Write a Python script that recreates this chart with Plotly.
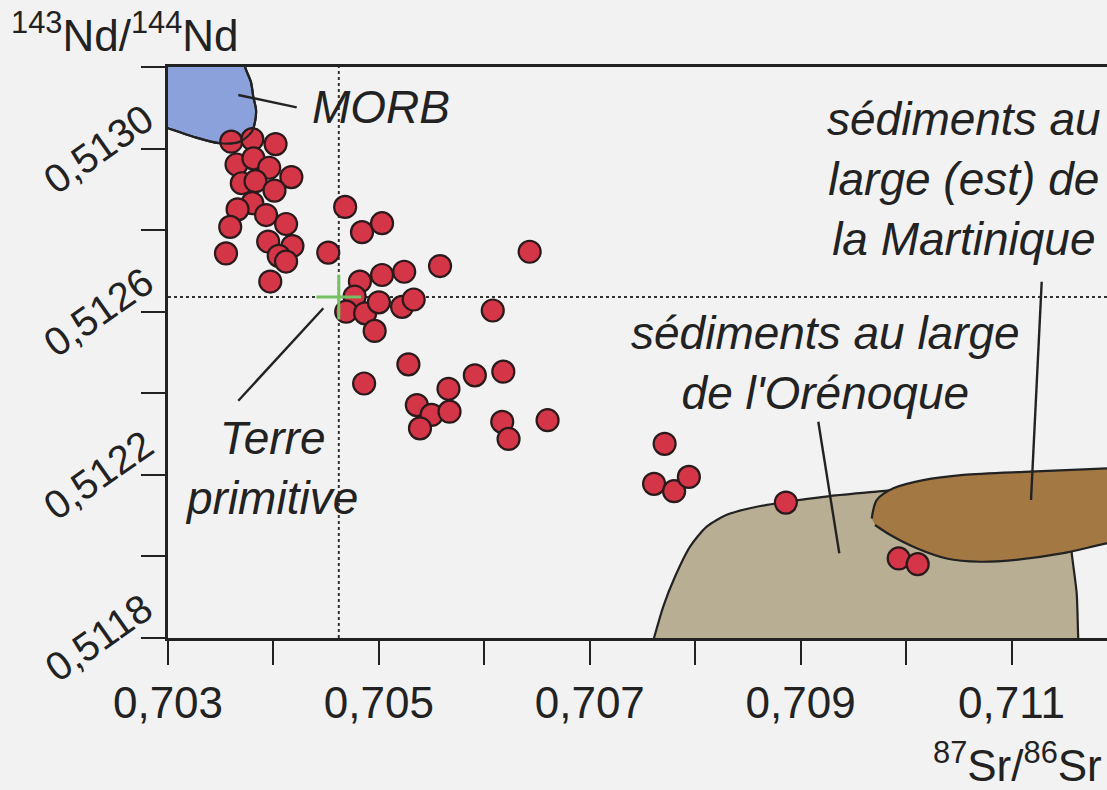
import plotly.graph_objects as go

# ---------------- data ----------------
sr = [0.70360, 0.70380, 0.70402, 0.70365, 0.70381, 0.70396, 0.70417, 0.70370, 0.70383,
      0.70401, 0.70380, 0.70366, 0.70393, 0.70412, 0.70359, 0.70395, 0.70418, 0.70405,
      0.70412, 0.70355, 0.70397,
      0.70468, 0.70484, 0.70503, 0.70452, 0.70558, 0.70643, 0.70482, 0.70503, 0.70524,
      0.70477, 0.70469, 0.70487, 0.70500, 0.70522, 0.70533, 0.70496, 0.70608, 0.70528,
      0.70486, 0.70591, 0.70618, 0.70566, 0.70536, 0.70550, 0.70567, 0.70539, 0.70617,
      0.70623, 0.70660, 0.70771, 0.70761, 0.70780, 0.70794, 0.70886, 0.70993, 0.71011]
nd = [0.513017, 0.513023, 0.513011, 0.512961, 0.512976, 0.512953, 0.512930, 0.512915, 0.512920,
      0.512897, 0.512866, 0.512851, 0.512837, 0.512815, 0.512808, 0.512772, 0.512761, 0.512737,
      0.512723, 0.512743, 0.512674,
      0.512857, 0.512795, 0.512817, 0.512745, 0.512712, 0.512747, 0.512674, 0.512690, 0.512698,
      0.512637, 0.512600, 0.512596, 0.512623, 0.512612, 0.512630, 0.512553, 0.512603, 0.512471,
      0.512424, 0.512444, 0.512453, 0.512411, 0.512371, 0.512347, 0.512355, 0.512314, 0.512330,
      0.512288, 0.512334, 0.512276, 0.512178, 0.512160, 0.512195, 0.512132, 0.511995, 0.511981]

morb_sr = [0.702829, 0.703711, 0.703730, 0.703787, 0.703809, 0.703835, 0.703825, 0.703794,
           0.703683, 0.703493, 0.703240, 0.703000, 0.702829]
morb_nd = [0.513242, 0.513242, 0.513201, 0.513163, 0.513127, 0.513095, 0.513065, 0.513041,
           0.513017, 0.513013, 0.513029, 0.513050, 0.513065]

orinoco_sr = [0.707590, 0.707609, 0.707697, 0.707808, 0.707951, 0.708109, 0.708299, 0.708551,
              0.708868, 0.709278, 0.709721, 0.710416, 0.711270, 0.711517, 0.711571, 0.711618,
              0.711633, 0.711640]
orinoco_nd = [0.511783, 0.511800, 0.511877, 0.511950, 0.512024, 0.512073, 0.512102, 0.512120,
              0.512134, 0.512148, 0.512159, 0.512175, 0.512182, 0.512163, 0.512008, 0.511910,
              0.511800, 0.511783]

martinique_sr = [0.709674, 0.709721, 0.709879, 0.710163, 0.710543, 0.711175, 0.711906, 0.712124,
                 0.712124, 0.711906, 0.711491, 0.711017, 0.710701, 0.710385, 0.710101, 0.709847,
                 0.709705]
martinique_nd = [0.512093, 0.512138, 0.512167, 0.512187, 0.512200, 0.512208, 0.512216, 0.512219,
                 0.512040, 0.512032, 0.512008, 0.511991, 0.511987, 0.511995, 0.512020, 0.512053,
                 0.512077]

chur_sr = 0.70462
chur_nd = 0.512636

x_major = [0.703, 0.705, 0.707, 0.709, 0.711]
x_major_labels = ["0,703", "0,705", "0,707", "0,709", "0,711"]
x_minor = [0.704, 0.706, 0.708, 0.710]
y_major = [0.5118, 0.5122, 0.5126, 0.5130]
y_major_labels = ["0,5118", "0,5122", "0,5126", "0,5130"]
y_minor = [0.5120, 0.5124, 0.5128, 0.5132]

# ---------------- layout helpers ----------------
W, H = 1107, 790
ML, MR, MT, MB = 168, 0, 67, 152
PW, PH = W - ML - MR, H - MT - MB


def px(x):
    return (x - ML) / PW


def py(y):
    return (H - MB - y) / PH


INK = "#222222"
FONT = "Liberation Sans, Arial, sans-serif"

fig = go.Figure()

# regions
fig.add_trace(go.Scatter(x=orinoco_sr, y=orinoco_nd, mode="lines", fill="toself",
                         fillcolor="#b8ae94", line=dict(color=INK, width=2.2, shape="spline", smoothing=0.7),
                         hoverinfo="skip", showlegend=False))
fig.add_trace(go.Scatter(x=martinique_sr, y=martinique_nd, mode="lines", fill="toself",
                         fillcolor="#a37843", line=dict(color=INK, width=2.2, shape="spline", smoothing=0.8),
                         hoverinfo="skip", showlegend=False))
fig.add_trace(go.Scatter(x=morb_sr, y=morb_nd, mode="lines", fill="toself",
                         fillcolor="#8ba1dc", line=dict(color=INK, width=2.2, shape="spline", smoothing=0.8),
                         hoverinfo="skip", showlegend=False))

# reference lines (primitive Earth)
fig.add_shape(type="line", xref="x", yref="paper", x0=chur_sr, x1=chur_sr, y0=0, y1=1,
              line=dict(color="#333333", width=2, dash="dot"), layer="below")
fig.add_shape(type="line", xref="paper", yref="y", x0=0, x1=1, y0=chur_nd, y1=chur_nd,
              line=dict(color="#333333", width=2, dash="dot"), layer="below")

# samples
fig.add_trace(go.Scatter(x=sr, y=nd, mode="markers",
                         marker=dict(size=22, color="#d43547", line=dict(color="#2a1a1c", width=2.2)),
                         showlegend=False))

# MORB outline on top
fig.add_trace(go.Scatter(x=morb_sr, y=morb_nd, mode="lines",
                         line=dict(color=INK, width=2.2, shape="spline", smoothing=0.8),
                         hoverinfo="skip", showlegend=False))

# primitive Earth cross
fig.add_trace(go.Scatter(x=[chur_sr], y=[chur_nd], mode="markers",
                         marker=dict(symbol="cross-thin", size=32, line=dict(color="#74c062", width=3)),
                         hoverinfo="skip", showlegend=False))

# leader lines
for (x0, y0, x1, y1) in [(238.3, 95, 296.7, 107.3), (238.3, 400.7, 323.3, 308.3),
                         (818.3, 421.7, 839.3, 553.3), (1041.7, 281.7, 1031, 500)]:
    fig.add_shape(type="line", xref="paper", yref="paper", x0=px(x0), y0=py(y0), x1=px(x1), y1=py(y1),
                  line=dict(color=INK, width=2.4))

labels = [
    ("<i>MORB</i>", 381, 107),
    ("<i>Terre<br>primitive</i>", 271, 468),
    ("<i>sédiments au large<br>de l'Orénoque</i>", 825, 363),
    ("<i>sédiments au<br>large (est) de<br>la Martinique</i>", 964, 179),
]
for text, x, y in labels:
    fig.add_annotation(text=text, xref="paper", yref="paper", x=px(x), y=py(y),
                       xanchor="center", yanchor="middle", showarrow=False,
                       font=dict(family=FONT, size=46, color=INK))

# y tick labels (rotated, centred on their ticks)
for v, t in zip(y_major, y_major_labels):
    fig.add_annotation(text=t, xref="paper", yref="y", x=px(98), y=v, textangle=-35,
                       xanchor="center", yanchor="middle", showarrow=False,
                       font=dict(family=FONT, size=40, color=INK))

# axis titles
fig.add_annotation(text="<sup>143</sup>Nd/<sup>144</sup>Nd", xref="paper", yref="paper",
                   x=px(9), y=py(3), xanchor="left", yanchor="top", showarrow=False,
                   font=dict(family=FONT, size=44, color=INK))
fig.add_annotation(text="<sup>87</sup>Sr/<sup>86</sup>Sr", xref="paper", yref="paper",
                   x=px(1104), y=py(792), xanchor="right", yanchor="bottom", showarrow=False,
                   font=dict(family=FONT, size=44, color=INK))

tick_style = dict(ticks="outside", ticklen=24, tickwidth=2.4, tickcolor=INK)
fig.update_xaxes(range=[0.703, 0.703 + PW * 0.001 / 105.44], tickvals=x_major, ticktext=x_major_labels,
                 minor=dict(tickvals=x_minor, **tick_style), **tick_style,
                 showline=True, linecolor=INK, linewidth=2.6, mirror=True,
                 showgrid=False, zeroline=False,
                 tickfont=dict(family=FONT, size=44, color=INK))
fig.update_yaxes(range=[0.5118, 0.5132], tickvals=y_major, showticklabels=False,
                 minor=dict(tickvals=y_minor, **tick_style), **tick_style,
                 showline=True, linecolor=INK, linewidth=2.6,
                 showgrid=False, zeroline=False)

fig.update_layout(width=W, height=H, margin=dict(l=ML, r=MR, t=MT, b=MB),
                  paper_bgcolor="#f2f2f2", plot_bgcolor="#f2f2f2", showlegend=False)

fig.write_html("out.html")
